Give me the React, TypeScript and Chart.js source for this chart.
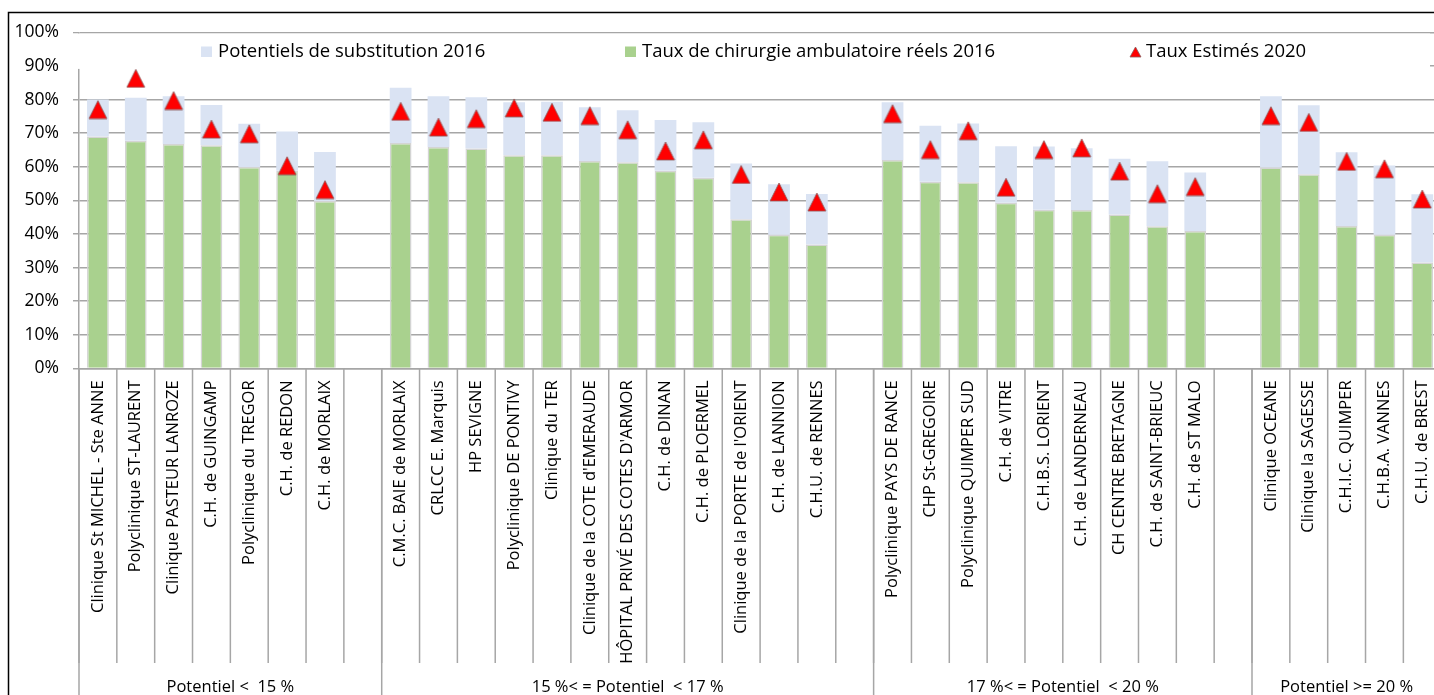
import React, { useEffect, useRef } from "react";
import { Chart, registerables } from "chart.js";

Chart.register(...registerables);

// ---------- DATA ----------
const groupNames = [
  "Potentiel <  15 %",
  "15 %< = Potentiel  < 17 %",
  "17 %< = Potentiel  < 20 %",
  "Potentiel >= 20 %",
];

const group1 = [
  "Clinique St MICHEL - Ste ANNE",
  "Polyclinique ST-LAURENT",
  "Clinique PASTEUR LANROZE",
  "C.H. de GUINGAMP",
  "Polyclinique du TREGOR",
  "C.H. de REDON",
  "C.H. de MORLAIX",
  "",
];
const group2 = [
  "C.M.C. BAIE de MORLAIX",
  "CRLCC E. Marquis",
  "HP SEVIGNE",
  "Polyclinique DE PONTIVY",
  "Clinique du TER",
  "Clinique de la COTE d'EMERAUDE",
  "HÔPITAL PRIVÉ DES COTES D'ARMOR",
  "C.H. de DINAN",
  "C.H. de PLOERMEL",
  "Clinique de la PORTE de l'ORIENT",
  "C.H. de LANNION",
  "C.H.U. de RENNES",
  "",
];
const group3 = [
  "Polyclinique PAYS DE RANCE",
  "CHP St-GREGOIRE",
  "Polyclinique QUIMPER SUD",
  "C.H. de VITRE",
  "C.H.B.S. LORIENT",
  "C.H. de LANDERNEAU",
  "CH CENTRE BRETAGNE",
  "C.H. de SAINT-BRIEUC",
  "C.H. de ST MALO",
  "",
];
const group4 = [
  "Clinique OCEANE",
  "Clinique la SAGESSE",
  "C.H.I.C. QUIMPER",
  "C.H.B.A. VANNES",
  "C.H.U. de BREST",
];

const categories = [...group1, ...group2, ...group3, ...group4];
const groupSizes = [group1.length, group2.length, group3.length, group4.length];

// Taux de chirurgie ambulatoire réels 2016 (%)
const tauxReels2016 = [
  69.0, 67.7, 66.8, 66.4, 59.9, 58.8, 49.8, null,
  67.1, 65.9, 65.4, 63.4, 63.4, 61.7, 61.3, 58.8, 56.7, 44.4, 39.8, 36.9, null,
  62.0, 55.5, 55.4, 49.3, 47.2, 47.1, 45.8, 42.3, 40.9, null,
  59.8, 57.8, 42.4, 39.8, 31.5,
];

// Potentiels de substitution 2016 (points de %)
const potentiels2016 = [
  11.0, 12.8, 14.2, 12.0, 12.9, 11.7, 14.6, null,
  16.4, 15.1, 15.3, 15.8, 15.9, 16.0, 15.5, 15.1, 16.5, 16.6, 15.0, 15.0, null,
  17.2, 16.7, 17.5, 16.8, 18.8, 18.4, 16.6, 19.3, 17.4, null,
  21.2, 20.5, 21.9, 20.6, 20.3,
];

// Taux Estimés 2020 (%)
const tauxEstimes2020 = [
  77.0, 86.3, 79.7, 71.2, 69.8, 60.3, 53.2, null,
  76.5, 71.8, 74.3, 77.5, 76.2, 75.2, 71.0, 64.7, 68.0, 57.7, 52.5, 49.5, null,
  75.8, 65.1, 70.7, 53.9, 65.1, 65.6, 58.7, 52.0, 54.1, null,
  75.2, 73.2, 61.6, 59.4, 50.4,
];

const yTicks = [0, 10, 20, 30, 40, 50, 60, 70, 80, 90, 100];

// ---------- STYLE ----------
const FONT = "'Open Sans', Lato, sans-serif";
const BLUE = "#dae3f3";
const GREEN = "#a9d18e";
const RED = "#ff0000";
const GRID = "#a6a6a6";

function makeTriangle(w: number, h: number): HTMLCanvasElement {
  const c = document.createElement("canvas");
  c.width = w + 2;
  c.height = h + 2;
  const g = c.getContext("2d")!;
  g.beginPath();
  g.moveTo(1 + w / 2, 1);
  g.lineTo(1 + w, 1 + h);
  g.lineTo(1, 1 + h);
  g.closePath();
  g.fillStyle = RED;
  g.fill();
  g.lineWidth = 0.8;
  g.strokeStyle = "#8a5a5a";
  g.stroke();
  return c;
}

const overlayPlugin = {
  id: "overlay",
  afterDatasetsDraw(chart: any) {
    const ctx = chart.ctx as CanvasRenderingContext2D;
    const { left, top } = chart.chartArea;
    const ys = chart.scales.y;
    const boxBottom = ys.getPixelForValue(90) + 3;
    ctx.save();
    // legend box (white, inside plot)
    ctx.fillStyle = "#ffffff";
    ctx.fillRect(left - 7, top + 1.2, 1430 - (left - 7), boxBottom - (top + 1.2));

    const baseY = 56.8;
    ctx.font = `18.5px ${FONT}`;
    ctx.textBaseline = "alphabetic";
    ctx.textAlign = "left";
    // entry 1
    ctx.fillStyle = BLUE;
    ctx.fillRect(201, 46.5, 11, 10.5);
    ctx.fillStyle = "#000";
    ctx.fillText("Potentiels de substitution 2016", 218, baseY);
    // entry 2
    ctx.fillStyle = GREEN;
    ctx.fillRect(625, 46.5, 11, 10.5);
    ctx.fillStyle = "#000";
    ctx.fillText("Taux de chirurgie ambulatoire réels 2016", 642, baseY);
    // entry 3
    const tri = makeTriangle(11, 10);
    ctx.drawImage(tri, 1129, 46);
    ctx.fillStyle = "#000";
    ctx.fillText("Taux Estimés 2020", 1146, baseY);
    ctx.restore();
  },
  afterDraw(chart: any) {
    const ctx = chart.ctx as CanvasRenderingContext2D;
    const { left, right, bottom } = chart.chartArea;
    const H = chart.height;
    const W = chart.width;
    const n = categories.length;
    const w = (right - left) / n;
    ctx.save();
    // category separators
    ctx.strokeStyle = GRID;
    ctx.lineWidth = 1.5;
    for (let i = 0; i <= n; i++) {
      const x = left + i * w;
      ctx.beginPath();
      ctx.moveTo(x, bottom);
      ctx.lineTo(x, 663);
      ctx.stroke();
    }
    // group separators + labels
    let start = 0;
    ctx.font = `16.5px ${FONT}`;
    ctx.fillStyle = "#000";
    ctx.textAlign = "center";
    ctx.textBaseline = "alphabetic";
    groupSizes.forEach((size, gi) => {
      const x0 = left + start * w;
      const x1 = left + (start + size) * w;
      ctx.beginPath();
      ctx.moveTo(x0, bottom);
      ctx.lineTo(x0, H);
      ctx.stroke();
      ctx.fillText(groupNames[gi], (x0 + x1) / 2, 692);
      start += size;
    });
    // outer frame
    ctx.strokeStyle = "#000";
    ctx.lineWidth = 1.5;
    ctx.beginPath();
    ctx.moveTo(8.5, H);
    ctx.lineTo(8.5, 12.5);
    ctx.lineTo(W, 12.5);
    ctx.stroke();
    ctx.restore();
  },
};

export default function App() {
  const ref = useRef<HTMLCanvasElement | null>(null);

  useEffect(() => {
    if (!ref.current) return;
    const triangle = makeTriangle(18, 18);
    const chart = new Chart(ref.current, {
      type: "bar",
      data: {
        labels: categories,
        datasets: [
          {
            type: "bar",
            label: "Taux de chirurgie ambulatoire réels 2016",
            data: tauxReels2016,
            backgroundColor: GREEN,
            borderColor: "#d4d4d4",
            borderWidth: 1.5,
            stack: "s",
            order: 1,
          },
          {
            type: "bar",
            label: "Potentiels de substitution 2016",
            data: potentiels2016,
            backgroundColor: BLUE,
            borderWidth: 0,
            stack: "s",
            order: 1,
          },
          {
            type: "line",
            label: "Taux Estimés 2020",
            data: tauxEstimes2020,
            showLine: false,
            pointStyle: triangle as any,
            pointRadius: 9,
            pointHoverRadius: 9,
            stack: "est",
            order: 0,
          } as any,
        ],
      },
      options: {
        responsive: false,
        animation: false,
        events: [],
        datasets: {
          bar: { categoryPercentage: 1, barPercentage: 0.575 },
        },
        layout: { padding: { top: 32.3, left: 0, right: 18.8, bottom: 0 } },
        plugins: {
          legend: { display: false },
          tooltip: { enabled: false },
        },
        scales: {
          x: {
            stacked: true,
            grid: { display: false, drawTicks: false },
            border: { display: true, color: GRID, width: 1.5 },
            ticks: {
              autoSkip: false,
              minRotation: 90,
              maxRotation: 90,
              padding: 12,
              color: "#000",
              font: { family: FONT, size: 16.5 },
            },
            afterFit: (s: any) => {
              s.height = 695 - 368.4;
            },
          },
          y: {
            stacked: true,
            min: 0,
            max: 100,
            afterBuildTicks: (s: any) => {
              s.ticks = yTicks.map((v) => ({ value: v }));
            },
            grid: {
              color: GRID,
              lineWidth: 1.5,
              tickLength: 6,
            },
            border: { display: true, color: GRID, width: 1.5 },
            ticks: {
              padding: 14,
              color: "#000",
              font: { family: FONT, size: 17.5 },
              callback: (v: any) => `${v}%`,
            },
            afterFit: (s: any) => {
              s.width = 79;
            },
          },
        },
      },
      plugins: [overlayPlugin],
    });
    return () => chart.destroy();
  }, []);

  return (
    <div
      style={{
        position: "fixed",
        left: 0,
        top: 0,
        width: 1434,
        height: 695,
        overflow: "hidden",
        background: "#fff",
      }}
    >
      <canvas ref={ref} width={1460} height={695} style={{ display: "block" }} />
    </div>
  );
}
